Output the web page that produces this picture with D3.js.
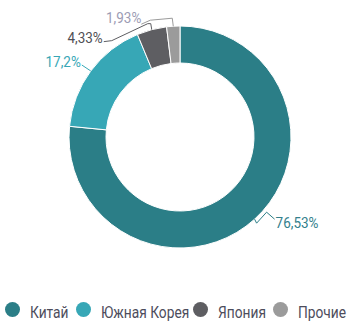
<!DOCTYPE html>
<html><head><meta charset="utf-8">
<script src="https://cdn.jsdelivr.net/npm/d3@7"></script>
<style>body{margin:0;background:#fff}svg{display:block}text{font-family:Roboto,"DejaVu Sans Condensed",sans-serif}</style>
</head><body>
<script>
const categories = ["Китай", "Южная Корея", "Япония", "Прочие"];
const values = [76.53, 17.2, 4.33, 1.93];
const valueLabels = ["76,53%", "17,2%", "4,33%", "1,93%"];
const colors = ["#2b7e87", "#37a7b6", "#5e5e62", "#9b9b9b"];
const labelColors = ["#33808c", "#37a7b6", "#505055", "#9c9cb4"];

const W = 352, H = 327, cx = 180, cy = 137, R = 111, r = 74;
// leader-line elbow offsets (layout only), relative to the outer-edge point
const leaders = [
  {pts: [[0,0],[2,4],[12,-7],[20,0]], anchor: "start", dx: 1, dy: 9},
  {pts: [[0,0],[-9,-6]], anchor: "end", dx: -1, dy: 2},
  {pts: [[0,0],[-1,-6],[-4,-6],[-40,11],[-48,12]], anchor: "end", dx: -1, dy: 1},
  {pts: [[0,0],[-1,-8],[-23,-6],[-32,-2]], anchor: "end", dx: 0, dy: -1}
];

const svg = d3.select("body").append("svg").attr("width", W).attr("height", H);
const pie = d3.pie().sort(null).value(d => d)(values);
const arc = d3.arc().innerRadius(r).outerRadius(R);
const g = svg.append("g").attr("transform", `translate(${cx},${cy})`);
g.selectAll("path.slice").data(pie).join("path").attr("class","slice")
  .attr("d", arc).attr("fill", (d,i) => colors[i]).attr("stroke", "#fff").attr("stroke-width", 1);

function narrowText(parent, x, y, txt, size, sx, fill, anchor) {
  return parent.append("text").attr("transform", `translate(${x},${y}) scale(${sx},1)`)
    .attr("text-anchor", anchor || "start").attr("font-size", size).attr("fill", fill).text(txt);
}

pie.forEach((d, i) => {
  const a = (d.startAngle + d.endAngle) / 2;
  const p0 = [R * Math.sin(a), -R * Math.cos(a)];
  const L = leaders[i];
  const pts = L.pts.map(o => [p0[0] + o[0], p0[1] + o[1]]);
  g.append("path").attr("d", d3.line()(pts)).attr("fill", "none")
    .attr("stroke", colors[i]).attr("stroke-width", 1);
  const last = pts[pts.length - 1];
  narrowText(g, last[0] + L.dx, last[1] + L.dy, valueLabels[i], 15, 0.9, labelColors[i], L.anchor);
});

// legend
const legendX = [12.5, 83.5, 200.5, 280.5];
const lg = svg.append("g");
categories.forEach((c, i) => {
  lg.append("circle").attr("cx", legendX[i]).attr("cy", 309.5).attr("r", 7.5).attr("fill", colors[i]);
  narrowText(lg, legendX[i] + 17.5, 317.5, c, 16, 0.86, "#4d4d5c");
});
</script>
</body></html>
